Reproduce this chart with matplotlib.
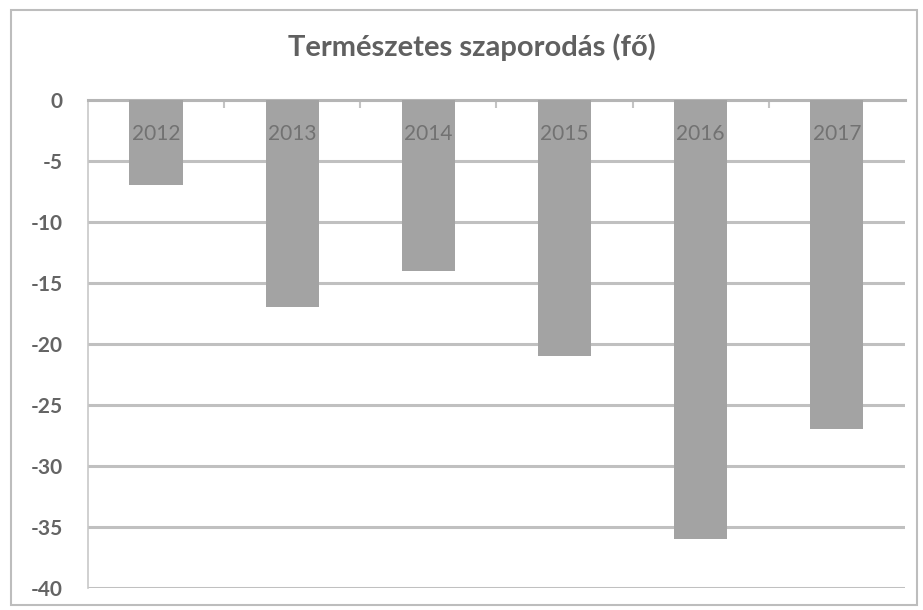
import matplotlib.pyplot as plt
from matplotlib.patches import Rectangle

# adatok
years = ['2012', '2013', '2014', '2015', '2016', '2017']
values = [-7, -17, -14, -21, -36, -27]
y_ticks = [0, -5, -10, -15, -20, -25, -30, -35, -40]

plt.rcParams['font.family'] = ['Lato', 'DejaVu Sans']

fig = plt.figure(figsize=(9.23, 6.10), dpi=100)
ax = fig.add_axes([0.0953, 0.036, 0.8852, 0.80])

x = list(range(len(years)))
ax.bar(x, values, width=0.39, color='#a3a3a3', zorder=3)

# kategória feliratok a 0 vonal alatt
for i, year in enumerate(years):
    ax.text(i, -2.8, year, ha='center', va='center', fontsize=15, color='#727272', zorder=4)

ax.set_xlim(-0.5, len(years) - 0.5)
ax.set_ylim(-40, 0)
ax.set_yticks(y_ticks)
ax.set_yticklabels([str(v) for v in y_ticks], fontsize=15, fontweight='bold', color='#646464')
ax.yaxis.grid(True, color='#c0c0c0', linewidth=2.2, zorder=0)
ax.tick_params(axis='y', length=0, pad=18)

ax.xaxis.tick_top()
ax.set_xticks([i + 0.5 for i in range(len(years) - 1)])
ax.set_xticklabels([])
ax.tick_params(axis='x', direction='in', length=6, color='#c4c4c4', width=1.5)

for s in ['right', 'bottom']:
    ax.spines[s].set_visible(False)
ax.spines['top'].set_color('#b5b5b5')
ax.spines['top'].set_linewidth(2.2)
ax.spines['left'].set_color('#c8c8c8')
ax.spines['left'].set_linewidth(1.2)

fig.text(0.511, 0.922, 'Természetes szaporodás (fő)', ha='center', va='center',
         fontsize=21, fontweight='bold', color='#606060')

# külső keret
fig.patches.append(Rectangle((0.012, 0.008), 0.982, 0.975, transform=fig.transFigure,
                             fill=False, edgecolor='#bdbdbd', linewidth=1.5))

fig.savefig('out.png', dpi=100)
